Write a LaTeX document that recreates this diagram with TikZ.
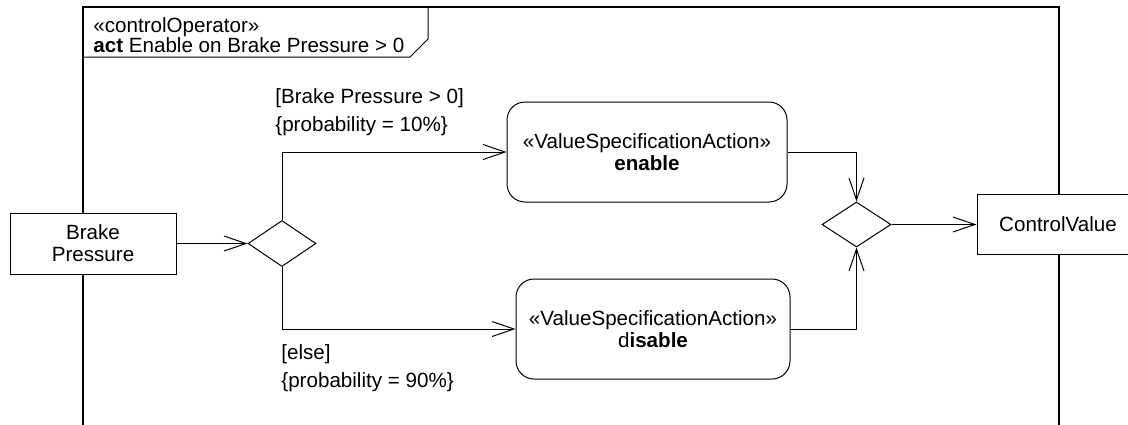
\documentclass[tikz,border=0pt]{standalone}
\usepackage{fontspec}
\setmainfont{Liberation Sans}
\usetikzlibrary{shapes.geometric, arrows.meta, positioning}

\begin{document}
\begin{tikzpicture}[
    x=0.5pt, y=-0.5pt,
    font=\fontsize{10.3}{11}\selectfont,
    pin/.style={rectangle, draw, fill=white, line width=0.5pt, minimum width=83pt, minimum height=30.5pt, align=center, inner sep=0pt},
    action/.style={rectangle, draw, line width=0.5pt, rounded corners=9pt, minimum height=50pt, align=center, inner sep=0pt},
    decision/.style={diamond, draw, line width=0.5pt, inner sep=0pt, minimum width=34pt, minimum height=23pt},
    guard/.style={align=left, inner sep=0pt, font=\fontsize{10.3}{14}\selectfont},
    flow/.style={-{Straight Barb[length=11pt, width=7.5pt]}, line width=0.5pt}
]
\useasboundingbox (0,0) rectangle (1128,424);

% frame
\draw[line width=0.6pt] (83,430) -- (83,7) -- (1059,7) -- (1059,430);
\draw[line width=0.5pt] (83,57) -- (410,57) -- (428,39) -- (428,7);
\node (hdr) [anchor=north west, align=left, inner sep=0pt, font=\fontsize{10.3}{10}\selectfont] at (93,17) {«controlOperator»\\\textbf{act} Enable on Brake Pressure > 0};

\node (bp) [pin] at (93,243.5) {Brake\\Pressure};
\node (dec) [decision, right=35.5pt of bp] {};
\node (enable) [action, minimum width=140pt] at (647,152) {«ValueSpecificationAction»\\\textbf{enable}};
\node (disable) [action, minimum width=137pt] at (653,329) {«ValueSpecificationAction»\\d\textbf{isable}};
\node (merge) [decision, minimum width=34.5pt, minimum height=22.5pt] at (856.5,224.5) {};
\node (cv) [pin, minimum width=84pt, minimum height=30pt] at (1061,224.5) {\hspace*{-3pt}ControlValue};

% guards
\node (g1) [guard, anchor=west] at (275,112.5) {[Brake Pressure > 0]\\\{probability = 10\%\}};
\node (g2) [guard, anchor=west] at (281,368.5) {[else]\\\{probability = 90\%\}};

% flows
\draw[flow] (bp) -- (dec);
\draw[flow] (dec.north) |- (enable.west);
\draw[flow] (dec.south) |- (disable.west);
\draw[flow] (enable.east) -| (merge.north);
\draw[flow] (disable.east) -| (merge.south);
\draw[flow] (merge) -- (cv);

\end{tikzpicture}
\end{document}
